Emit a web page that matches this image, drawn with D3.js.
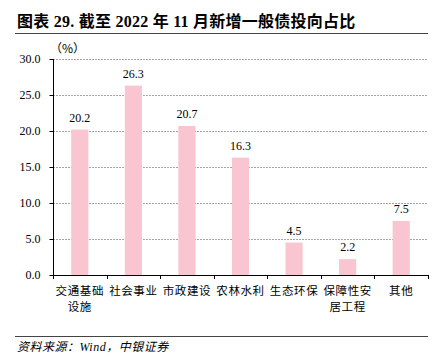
<!DOCTYPE html>
<html>
<head>
<meta charset="utf-8">
<script src="https://cdn.jsdelivr.net/npm/d3@7"></script>
<style>
  body { margin: 0; background: #fff; }
  svg text { font-family: "Liberation Serif", "Noto Sans CJK SC", serif; }
  .grid line { stroke: #666; stroke-dasharray: 2,1; stroke-width: 0.6; }
</style>
</head>
<body>
<div id="chart"></div>
<script>
"use strict"

const categories = ["交通基础设施", "社会事业", "市政建设", "农林水利", "生态环保", "保障性安居工程", "其他"];
const labelLines = [["交通基础", "设施"], ["社会事业"], ["市政建设"], ["农林水利"], ["生态环保"], ["保障性安", "居工程"], ["其他"]];
const values = [20.2, 26.3, 20.7, 16.3, 4.5, 2.2, 7.5];
const yTicks = [0, 5, 10, 15, 20, 25, 30];

let width = 440,
    height = 358;
const plot = { left: 53, right: 428, top: 59, bottom: 275 };

const svg = d3.select("#chart").append("svg")
    .attr("width", width)
    .attr("height", height);

// заголовок
svg.append("text")
    .attr("x", 17)
    .attr("y", 27)
    .style("font-size", "16px")
    .style("font-weight", "bold")
    .style("letter-spacing", "0.25px")
    .text("图表 29. 截至 2022 年 11 月新增一般债投向占比");

svg.append("line")
    .attr("x1", 15).attr("x2", 428)
    .attr("y1", 33.5).attr("y2", 33.5)
    .attr("stroke", "#444").attr("stroke-width", 1);

const scaleX = d3.scaleBand()
    .domain(categories)
    .range([plot.left, plot.right])
    .paddingInner(0.68)
    .paddingOuter(0.34);

const scaleY = d3.scaleLinear()
    .domain([0, 30])
    .range([plot.bottom, plot.top]);

// сетка
svg.append("g")
    .attr("class", "grid")
    .selectAll("line")
    .data(yTicks.slice(1))
    .join("line")
    .attr("x1", plot.left)
    .attr("x2", plot.right)
    .attr("y1", d => scaleY(d) + 0.5)
    .attr("y2", d => scaleY(d) + 0.5);

const yAxis = d3.axisLeft(scaleY)
    .tickValues(yTicks)
    .tickFormat(d3.format(".1f"))
    .tickSize(4)
    .tickPadding(9);

const yg = svg.append("g")
    .attr("transform", "translate(" + (plot.left + 0.5) + ",0)")
    .call(yAxis);
yg.selectAll("text").style("font-size", "12px").attr("fill", "#000");
yg.selectAll("line, path").attr("stroke", "#000");
yg.select(".domain").attr("d", "M0," + plot.top + "V" + (plot.bottom + 0.5));

svg.append("text")
    .attr("x", 50)
    .attr("y", 53)
    .style("font-family", "'Noto Sans CJK SC', sans-serif")
    .style("font-size", "12px")
    .text("（%）");

// столбцы
svg.append("g")
    .selectAll("rect")
    .data(values)
    .join("rect")
    .attr("x", (d, i) => scaleX(categories[i]))
    .attr("y", d => scaleY(d))
    .attr("width", scaleX.bandwidth())
    .attr("height", d => scaleY(0) - scaleY(d))
    .attr("fill", "#F8C5D0");

svg.append("g")
    .selectAll("text")
    .data(values)
    .join("text")
    .attr("x", (d, i) => scaleX(categories[i]) + scaleX.bandwidth() / 2)
    .attr("y", d => scaleY(d) - 8)
    .attr("text-anchor", "middle")
    .style("font-size", "12px")
    .text(d => d.toFixed(1));

// ось X
const boundaries = d3.range(categories.length + 1).map(i => plot.left + i * (plot.right - plot.left) / categories.length);
svg.append("line")
    .attr("x1", plot.left).attr("x2", plot.right)
    .attr("y1", plot.bottom + 0.5).attr("y2", plot.bottom + 0.5)
    .attr("stroke", "#000");
svg.append("g")
    .selectAll("line")
    .data(boundaries)
    .join("line")
    .attr("x1", d => Math.round(d) + 0.5).attr("x2", d => Math.round(d) + 0.5)
    .attr("y1", plot.bottom).attr("y2", plot.bottom + 4)
    .attr("stroke", "#000");

// подписи категорий, по строкам
const labelRows = [];
labelLines.forEach((lines, i) => lines.forEach((t, j) => labelRows.push({ cat: categories[i], text: t, row: j })));
svg.append("g")
    .selectAll("text")
    .data(labelRows)
    .join("text")
    .attr("x", d => scaleX(d.cat) + scaleX.bandwidth() / 2)
    .attr("y", d => 295 + d.row * 16)
    .attr("text-anchor", "middle")
    .style("font-family", "'Noto Sans CJK SC', sans-serif")
    .style("font-size", "11.5px")
    .style("letter-spacing", "0.6px")
    .text(d => d.text);

// подвал
svg.append("line")
    .attr("x1", 15).attr("x2", 428)
    .attr("y1", 336.5).attr("y2", 336.5)
    .attr("stroke", "#444").attr("stroke-width", 1);

svg.append("text")
    .attr("x", 17)
    .attr("y", 351)
    .style("font-size", "12px")
    .style("font-style", "italic")
    .style("letter-spacing", "0.5px")
    .text("资料来源：Wind，中银证券");
</script>
</body>
</html>
